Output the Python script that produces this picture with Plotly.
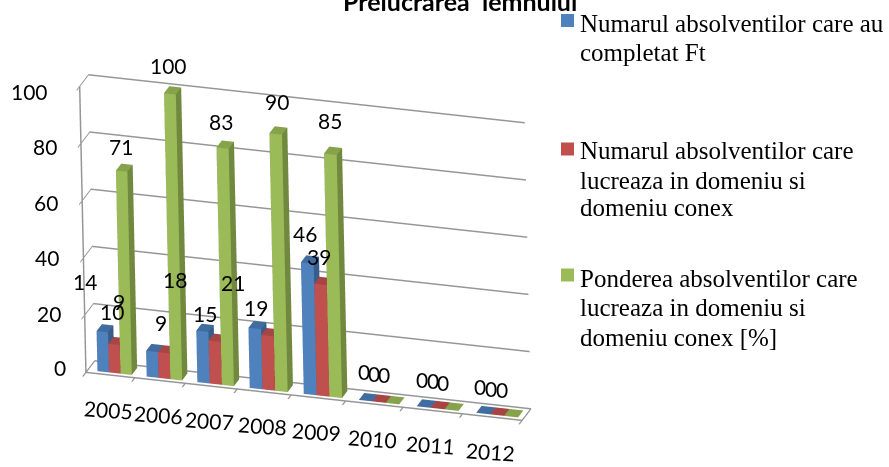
import plotly.graph_objects as go

years = ["2005","2006","2007","2008","2009","2010","2011","2012"]
completed = [14, 9, 18, 21, 46, 0, 0, 0]
working = [10, 9, 15, 19, 39, 0, 0, 0]
share = [71, 100, 83, 90, 85, 0, 0, 0]
z_ticks = [0, 20, 40, 60, 80, 100]
slot_edges = [0, 48.5, 98.5, 150, 203.5, 257.5, 314.5, 373.5, 432.5]
legend_lines = [["Numarul absolventilor care au", "completat Ft"],
                ["Numarul absolventilor care", "lucreaza in domeniu si", "domeniu conex"],
                ["Ponderea absolventilor care", "lucreaza in domeniu si", "domeniu conex [%]"]]
title = "Prelucrarea  lemnului"
front_colors = ["#4F81BD", "#C0504D", "#9BBB59"]
side_colors = ["#385D8A", "#8C3A38", "#71893F"]
top_colors = ["#416C9F", "#A64543", "#86A34B"]
series = [completed, working, share]

# pixel nudges of the value labels, one row per series
label_dx = [[-17, -33, -27, -22, -2, -2, -2, -3],
            [-2, -3, -10, -11, -1, -5, -5, -6],
            [-1, -1, -2, 1, 0, -8, -8, -9]]
label_dy = [[50, 50, 52, 46, 29, 29, 28, 27],
            [33, 30, 28, 28, 28, 29, 28, 27],
            [25, 28, 27, 32, 34, 29, 28, 27]]
tick_dx = [-18, -22, -22, -22, -22, -30]
tick_dy = [5, 2, 0, -2, -3, -5]

BAR_W = 0.234
BAR_START = 0.2
FONT = "Lato"

def cuboid(x0, x1, y0, y1, z, front, side, top):
    xs = [x0, x1, x1, x0, x0, x1, x1, x0]
    ys = [y0, y0, y1, y1, y0, y0, y1, y1]
    zs = [0, 0, 0, 0, z, z, z, z]
    i = [0,0,4,4,0,0,1,1,2,2,3,3]
    j = [1,2,5,6,1,5,2,6,3,7,0,4]
    k = [2,3,6,7,5,4,6,5,7,6,4,7]
    fc = [side, side, top, top, front, front, side, side, side, side, side, side]
    return go.Mesh3d(x=xs, y=ys, z=zs, i=i, j=j, k=k, facecolor=fc, flatshading=True,
                     lighting=dict(ambient=1, diffuse=0, specular=0, roughness=1, fresnel=0),
                     showscale=False, hoverinfo="skip")

fig = go.Figure()
anns = []
for yi in range(len(years)):
    w = slot_edges[yi+1] - slot_edges[yi]
    for si, s in enumerate(series):
        x0 = slot_edges[yi] + (BAR_START + si*BAR_W)*w
        fig.add_trace(cuboid(x0, x0 + BAR_W*w, 0.2, 0.8, s[yi], front_colors[si], side_colors[si], top_colors[si]))
        anns.append(dict(x=x0 + BAR_W*w/2, y=0.2, z=s[yi], text=str(s[yi]), showarrow=False,
                         xshift=label_dx[si][yi], yshift=label_dy[si][yi],
                         font=dict(family=FONT, size=21, color="black")))

# floor outline
fig.add_trace(go.Scatter3d(x=[0,slot_edges[-1],slot_edges[-1],0,0], y=[0,0,1,1,0], z=[0,0,0,0,0], mode="lines",
                           line=dict(color="#969696", width=2.5), hoverinfo="skip", showlegend=False))

for n, t in enumerate(z_ticks):
    anns.append(dict(x=0, y=0, z=t, text=str(t), showarrow=False, xanchor="right",
                     xshift=tick_dx[n], yshift=tick_dy[n],
                     font=dict(family=FONT, size=21, color="black")))
for i, y in enumerate(years):
    anns.append(dict(x=(slot_edges[i]+slot_edges[i+1])/2, y=0, z=0, text=y, showarrow=False,
                     xshift=-2, yshift=-34, textangle=4,
                     font=dict(family=FONT, size=21, color="black")))

axis_common = dict(showbackground=False, showspikes=False, title="", zeroline=False,
                   showline=True, linecolor="#969696", linewidth=3, ticks="outside", ticklen=6, tickcolor="#969696", tickwidth=3)
fig.update_layout(width=889, height=467, margin=dict(l=0,r=0,t=0,b=0), paper_bgcolor="white", showlegend=False,
    scene=dict(domain=dict(x=[0,0.686], y=[0,1]), dragmode="orbit",
               aspectmode="manual", aspectratio=dict(x=1.959,y=0.126,z=1.341),
               xaxis=dict(range=[0,slot_edges[-1]], showticklabels=False, showgrid=False, tickvals=slot_edges, **axis_common),
               yaxis=dict(range=[0,1], showticklabels=False, showgrid=False, **{**axis_common, "ticks":"", "showline":False}),
               zaxis=dict(range=[0,100], tickvals=z_ticks, showticklabels=False, showgrid=True, gridcolor="#969696", gridwidth=3, **axis_common),
               annotations=anns,
               camera=dict(eye=dict(x=0.565,y=-1.738,z=0.813+0.066), center=dict(x=0,y=0,z=0.066),
                           up=dict(x=0.019,y=0.006,z=1), projection=dict(type="orthographic"))))

swatch_y = [20.5, 149, 275]
text_y = [[23, 53], [150, 180, 207], [278, 307, 337]]
shapes = []
paper_anns = []
W, H = 889, 467
for c, sy, lines, tys in zip(front_colors, swatch_y, legend_lines, text_y):
    shapes.append(dict(type="rect", xref="paper", yref="paper", x0=561/W, x1=574/W, y0=1-(sy+6.5)/H, y1=1-(sy-6.5)/H,
                       fillcolor=c, line=dict(width=0)))
    for txt, ty in zip(lines, tys):
        paper_anns.append(dict(xref="paper", yref="paper", x=579/W, y=1-ty/H, xanchor="left", yanchor="middle", xshift=-1,
                               text=txt, showarrow=False, font=dict(family="Liberation Serif", size=25, color="black")))
paper_anns.append(dict(xref="paper", yref="paper", x=460/W, y=1-1/H, xanchor="center", yanchor="middle", text="<b>"+title+"</b>",
                       showarrow=False, font=dict(family=FONT, size=25, color="black")))
fig.update_layout(shapes=shapes, annotations=paper_anns)
fig.write_html("out.html", post_script="document.body.style.margin='0';", config={"displayModeBar": False})
